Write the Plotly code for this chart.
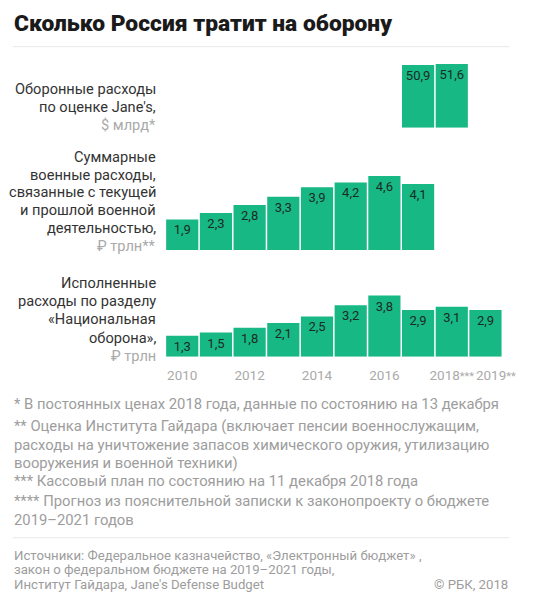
import plotly.graph_objects as go

W, H = 536, 600

years = [2010, 2011, 2012, 2013, 2014, 2015, 2016, 2017, 2018, 2019]
janes_years = [2017, 2018]
janes_usd_bn = [50.9, 51.6]
total_mil_rub_tn = [1.9, 2.3, 2.8, 3.3, 3.9, 4.2, 4.6, 4.1]
natdef_rub_tn = [1.3, 1.5, 1.8, 2.1, 2.5, 3.2, 3.8, 2.9, 3.1, 2.9]
tick_years = [2010, 2012, 2014, 2016, 2018, 2019]
STAR = "<span style='font-size:11px'>{}</span>"
# en spaces nudge the last label right, as in the original layout
tick_labels = ["2010", "2012", "2014", "2016", "2018" + STAR.format("***"),
               "\u2002\u2002\u20022019" + STAR.format("**")]

title = "Сколько Россия тратит на оборону"
row_labels = [
    ["Оборонные расходы", "по оценке Jane's,", "<span style='color:#aaaaaa'>$ млрд*</span>"],
    ["Суммарные", "военные расходы,", "связанные с текущей", "и прошлой военной",
     "деятельностью,", "<span style='color:#aaaaaa'>₽ трлн**</span>"],
    ["Исполненные", "расходы по разделу", "«Национальная", "оборона»,",
     "<span style='color:#aaaaaa'>₽ трлн</span>"],
]
notes = [
    ["* В постоянных ценах 2018 года, данные по состоянию на 13 декабря"],
    ["** Оценка Института Гайдара (включает пенсии военнослужащим,",
     "расходы на уничтожение запасов химического оружия, утилизацию",
     "вооружения и военной техники)"],
    ["*** Кассовый план по состоянию на 11 декабря 2018 года"],
    ["**** Прогноз из пояснительной записки к законопроекту о бюджете",
     "2019–2021 годов"],
]
sources = ["Источники: Федеральное казначейство, «Электронный бюджет» ,",
           "закон о федеральном бюджете на 2019–2021 годы,",
           "Институт Гайдара, Jane's Defense Budget"]
copyright_txt = "© РБК, 2018"

GREEN = "#17b884"
FONT = "Roboto"


def px(x):
    return x / W


def py(y):
    return 1 - y / H


def fmt(vals):
    return [f"{v:.1f}".replace(".", ",") for v in vals]


fig = go.Figure()

# (x values, y values, axis suffix, y range, top px, bottom px)
panels = [
    (janes_years, janes_usd_bn, "", [0, 60], 53.7, 127.7),
    (years[:len(total_mil_rub_tn)], total_mil_rub_tn, "2", [0, 5], 169.5, 250),
    (years, natdef_rub_tn, "3", [0, 4.2], 289.1, 356.7),
]

for xs, ys, sfx, yr, top, bot in panels:
    fig.add_trace(go.Bar(
        x=xs, y=ys, text=fmt(ys),
        textposition="inside", insidetextanchor="end", textangle=0,
        textfont=dict(family=FONT, size=13, color="#1d2a25"),
        marker=dict(color=GREEN, line=dict(width=0)),
        xaxis="x" + sfx, yaxis="y" + sfx, showlegend=False, hoverinfo="skip",
    ))
    fig.layout["yaxis" + sfx] = dict(
        domain=[py(bot), py(top)], range=yr, visible=False, fixedrange=True,
    )
    fig.layout["xaxis" + sfx] = dict(
        domain=[px(169.5), px(514.8)], range=[2009.5, 2019.5],
        anchor="y" + sfx, showgrid=False, zeroline=False, showline=False,
        showticklabels=(sfx == "3"), tickvals=tick_years, ticktext=tick_labels,
        tickangle=0,
        ticks="outside" if sfx == "3" else "", ticklen=6,
        tickcolor="rgba(0,0,0,0)",
        tickfont=dict(family=FONT, size=13.5, color="#aaaaaa"),
        fixedrange=True,
    )

ann = []


def add_lines(lines, x, y0, pitch, xanchor, size, color, weight="normal"):
    for i, line in enumerate(lines):
        ann.append(dict(text=line, x=px(x), y=py(y0 + i * pitch), xanchor=xanchor,
                        yanchor="middle",
                        font=dict(family=FONT, size=size, color=color, weight=weight)))


add_lines([title], 13, 23, 0, "left", 22.8, "#1a1a1a", weight=900)

for lines, y0, pitch in zip(row_labels, [89, 156.7, 283], [18, 17.9, 18.2]):
    add_lines(lines, 161, y0, pitch, "right", 14.6, "#333333")

for lines, y0 in zip(notes, [403.5, 426, 481, 501]):
    add_lines(lines, 13, y0, 18.6, "left", 14.8, "#9d9d9d")

add_lines(sources, 13, 555, 14.7, "left", 13.2, "#9d9d9d")
add_lines([copyright_txt], 522, 584.3, 0, "right", 13.2, "#9d9d9d")

for a in ann:
    a.update(xref="paper", yref="paper", showarrow=False, borderpad=0)

shapes = [
    dict(type="line", xref="paper", yref="paper", x0=px(13), x1=px(522),
         y0=py(46.7), y1=py(46.7), line=dict(color="#e8e8e8", width=1)),
    dict(type="line", xref="paper", yref="paper", x0=px(13), x1=px(522),
         y0=py(537.7), y1=py(537.7), line=dict(color="#e8e8e8", width=1)),
]

fig.update_layout(
    width=W, height=H, margin=dict(l=0, r=0, t=0, b=0),
    paper_bgcolor="white", plot_bgcolor="white",
    bargap=0.045, annotations=ann, shapes=shapes,
    font=dict(family=FONT),
)

fig.write_html("out.html", config={"displayModeBar": False},
               post_script="document.body.style.margin='0';")
